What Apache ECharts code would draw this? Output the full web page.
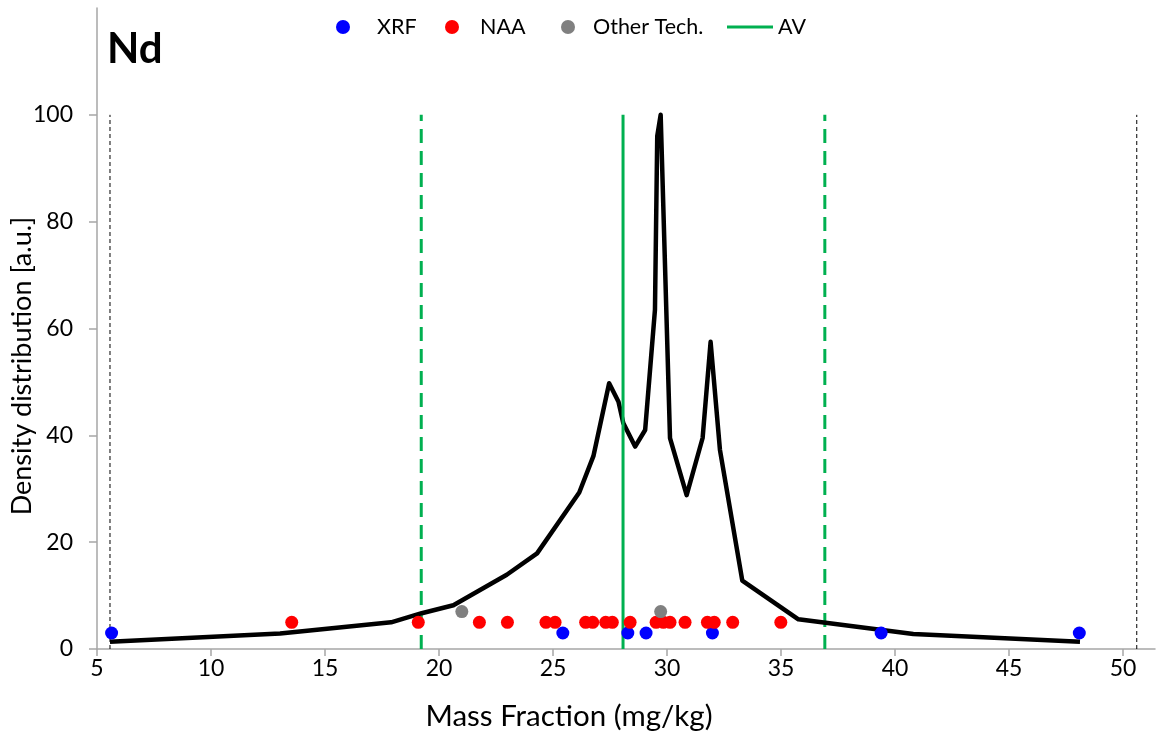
<!DOCTYPE html>
<html>
<head>
<meta charset="utf-8">
<script src="https://cdn.jsdelivr.net/npm/echarts@6/dist/echarts.min.js"></script>
<style>
html,body{margin:0;padding:0;background:#fff;}
#c{width:1166px;height:736px;}
</style>
</head>
<body>
<div id="c"></div>
<script>
// ---- data ----
var curveX = [5.57, 13.03, 17.9, 19.24, 20.63, 22.97, 24.3, 26.15, 26.77, 27.46, 27.87, 28.08, 28.6, 29.04, 29.47, 29.57, 29.72, 30.13, 30.86, 31.56, 31.91, 32.32, 33.3, 35.76, 40.8, 48.11];
var curveY = [1.37, 2.9, 5.0, 6.7, 8.2, 13.9, 17.9, 29.3, 36.1, 49.75, 46.3, 42.3, 37.9, 41.0, 63.5, 96.0, 100, 39.5, 28.8, 39.5, 57.5, 37.3, 12.8, 5.56, 2.8, 1.37];

var xrfX = [5.64, 25.43, 28.28, 29.08, 31.99, 39.39, 48.08];
var xrfY = [3, 3, 3, 3, 3, 3, 3];
var naaX = [13.54, 19.09, 21.77, 23.0, 24.69, 25.09, 26.43, 26.74, 27.31, 27.60, 28.38, 29.52, 29.84, 30.13, 30.79, 31.77, 32.07, 32.88, 34.99];
var naaY = [5, 5, 5, 5, 5, 5, 5, 5, 5, 5, 5, 5, 5, 5, 5, 5, 5, 5, 5];
var otherX = [21.0, 29.72];
var otherY = [7, 7];

var avValue = 28.07;
var avBand = [19.22, 36.92];
var limitLines = [5.57, 50.6];
var lineTop = [0, 100];

var xTicks = [5, 10, 15, 20, 25, 30, 35, 40, 45, 50];
var yTicks = [0, 20, 40, 60, 80, 100];

function pairs(xs, ys) { return xs.map(function (x, i) { return [x, ys[i]]; }); }
function vline(x) { return [[x, lineTop[0]], [x, lineTop[1]]]; }

var FONT = 'Lato';
var green = '#00B050';

var series = [
  { name: 'curve', type: 'line', data: pairs(curveX, curveY), symbol: 'none', smooth: false,
    lineStyle: { color: '#000', width: 4.5, join: 'round' }, z: 3, silent: true },
  { name: 'limL', type: 'line', data: vline(limitLines[0]), symbol: 'none',
    lineStyle: { color: '#000', width: 1, type: [4, 3] }, z: 2, silent: true },
  { name: 'limR', type: 'line', data: vline(limitLines[1]), symbol: 'none',
    lineStyle: { color: '#000', width: 1, type: [4, 3] }, z: 2, silent: true },
  { name: 'bandL', type: 'line', data: vline(avBand[0]), symbol: 'none',
    lineStyle: { color: green, width: 3, type: [14, 8] }, z: 2, silent: true },
  { name: 'bandR', type: 'line', data: vline(avBand[1]), symbol: 'none',
    lineStyle: { color: green, width: 3, type: [14, 8] }, z: 2, silent: true },
  { name: 'AV', type: 'line', data: vline(avValue), symbol: 'none',
    lineStyle: { color: green, width: 3 }, itemStyle: { color: green }, z: 4, silent: true },
  { name: 'XRF', type: 'scatter', data: pairs(xrfX, xrfY), symbol: 'circle', symbolSize: 13,
    itemStyle: { color: '#0000FF', opacity: 1 }, z: 5 },
  { name: 'NAA', type: 'scatter', data: pairs(naaX, naaY), symbol: 'circle', symbolSize: 13,
    itemStyle: { color: '#FF0000', opacity: 1 }, z: 5 },
  { name: 'Other Tech.', type: 'scatter', data: pairs(otherX, otherY), symbol: 'circle', symbolSize: 13,
    itemStyle: { color: '#808080', opacity: 1 }, z: 5 }
];

function leg(name, icon, left, w, h, padLeft) {
  return { data: [{ name: name, icon: icon }], left: left, top: 16, itemWidth: w, itemHeight: h, itemGap: 0,
    selectedMode: false, padding: 0,
    textStyle: { fontFamily: FONT, fontSize: 21.5, color: '#000', padding: [0, 0, 0, padLeft] } };
}

var option = {
  animation: false,
  backgroundColor: '#fff',
  grid: { left: 97, right: 11, top: 8, bottom: 87, containLabel: false },
  legend: [
    leg('XRF', 'circle', 336, 14, 14, 22),
    leg('NAA', 'circle', 445, 14, 14, 16),
    leg('Other Tech.', 'circle', 561, 14, 14, 13),
    leg('AV', 'rect', 727, 46, 3, 0)
  ],
  xAxis: {
    type: 'value', min: 5, max: 51.4, interval: 5,
    axisLine: { show: true, lineStyle: { color: '#a6a6a6', width: 1.5 } },
    axisTick: { show: true, length: 7, customValues: xTicks, lineStyle: { color: '#a6a6a6', width: 1.5 } },
    axisLabel: { customValues: xTicks, margin: 8, fontFamily: FONT, fontSize: 23, color: '#000' },
    splitLine: { show: false }
  },
  yAxis: {
    type: 'value', min: 0, max: 120, interval: 20,
    axisLine: { show: true, lineStyle: { color: '#a6a6a6', width: 1.5 } },
    axisTick: { show: true, length: 8, customValues: yTicks, lineStyle: { color: '#a6a6a6', width: 1.5 } },
    axisLabel: { customValues: yTicks, margin: 24, fontFamily: FONT, fontSize: 23, color: '#000' },
    splitLine: { show: false }
  },
  graphic: [
    { type: 'text', left: 107, top: 28, style: { text: 'Nd', font: 'bold 42px ' + FONT, fill: '#000' } },
    { type: 'text', x: 569, y: 716, style: { text: 'Mass Fraction (mg/kg)', font: '29.5px ' + FONT, fill: '#000', textAlign: 'center', textVerticalAlign: 'middle' } },
    { type: 'text', x: 22, y: 366, rotation: Math.PI / 2, style: { text: 'Density distribution [a.u.]', font: '27px ' + FONT, fill: '#000', textAlign: 'center', textVerticalAlign: 'middle' } }
  ],
  series: series
};

var chart = echarts.init(document.getElementById('c'), null, { renderer: 'canvas' });
chart.setOption(option);
</script>
</body>
</html>
